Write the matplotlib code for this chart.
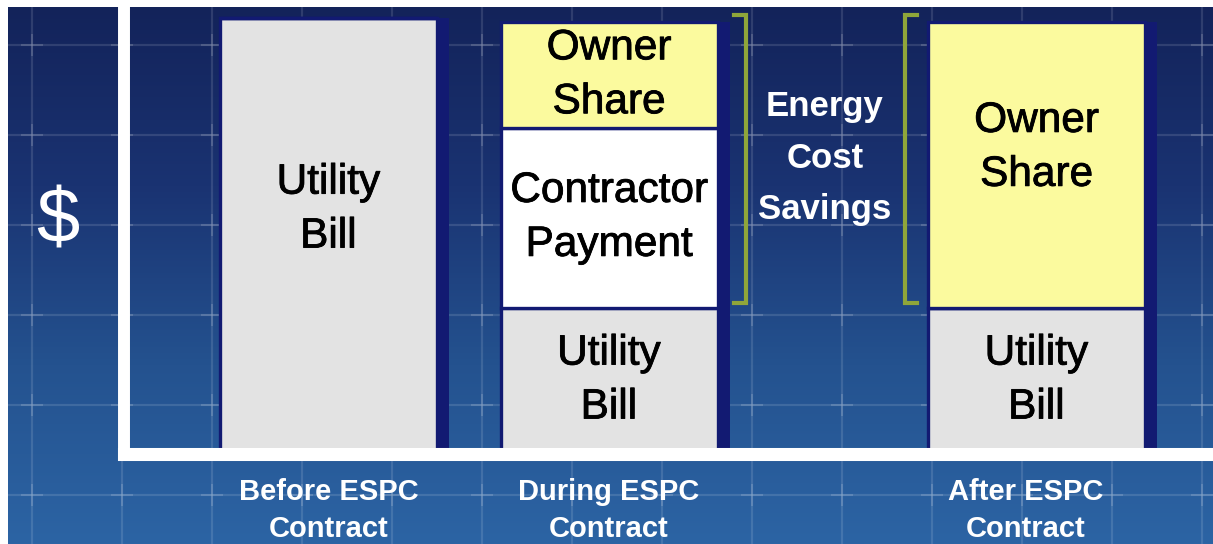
import numpy as np
import matplotlib
matplotlib.use("Agg")
import matplotlib.pyplot as plt
import matplotlib.patheffects as pe
from matplotlib.colors import LinearSegmentedColormap
from matplotlib.transforms import ScaledTranslation

plt.rcParams['font.family'] = ['Liberation Sans', 'DejaVu Sans']

# datos del grafico
categorias = ['Before ESPC\nContract', 'During ESPC\nContract', 'After ESPC\nContract']
utility = [100, 33.5, 33.5]
contractor = [0, 41.2, 0]
owner = [0, 24.3, 65.5]
seg_labels = ['Utility\nBill', 'Contractor\nPayment', 'Owner\nShare']
savings_label = 'Energy\nCost\nSavings'

# colores
c_util = '#e3e3e3'
c_contr = '#ffffff'
c_owner = '#fbfa9e'
c_shadow = '#121a72'
c_bracket = '#8fa63a'

W, H = 1213, 544
fig = plt.figure(figsize=(W / 100, H / 100), dpi=100, facecolor='white')

# fondo azul con cuadricula
bg = fig.add_axes([8 / W, 0, (W - 8) / W, (H - 7) / H], zorder=0)
cmap = LinearSegmentedColormap.from_list('fondo', ['#13235a', '#1a3372', '#24528f', '#2c64a4'])
grad = np.linspace(0, 1, 256).reshape(-1, 1)
bg.imshow(grad, cmap=cmap, aspect='auto', extent=[8, W, H, 7])
bg.set_xlim(8, W)
bg.set_ylim(H, 7)
for gx in range(32, W, 90):
    bg.axvline(gx, color='white', alpha=0.12, lw=1.6)
for gy in range(45, H, 90):
    bg.axhline(gy, color='white', alpha=0.12, lw=1.6)
gxs, gys = np.meshgrid(np.arange(32, W, 90), np.arange(45, H, 90))
bg.scatter(gxs.ravel(), gys.ravel(), marker='+', s=260, color='white', alpha=0.18, lw=1.2)
bg.axis('off')

# ejes principales (pixeles -> fraccion de figura)
left_px, bottom_px, top_px = 124, 453.5, 7
ax = fig.add_axes([left_px / W, (H - bottom_px) / H, (W - left_px) / W, (bottom_px - top_px) / H], zorder=1)
ax.patch.set_alpha(0)

px_x = 280.5
px_y = 4.355
x_pos = [0, 1, (1036.5 - 328.5) / px_x]
ancho = 217 / px_x
ax.set_xlim(-(328.5 - left_px) / px_x, (W - 328.5) / px_x)
ax.set_ylim(0, (bottom_px - top_px) / px_y)

# sombra a la derecha de cada barra
totales = [u + c + o for u, c, o in zip(utility, contractor, owner)]
ax.bar([x + 12 / px_x for x in x_pos], totales, width=ancho, color=c_shadow, zorder=1)

trazo = [pe.withStroke(linewidth=0.6, foreground='black')]
base = [0, 0, 0]
for vals, col, lab in zip([utility, contractor, owner], [c_util, c_contr, c_owner], seg_labels):
    ax.bar(x_pos, vals, width=ancho, bottom=base, color=col, edgecolor=c_shadow, lw=2.4, zorder=2)
    for i, v in enumerate(vals):
        if v > 0:
            frac = 0.56 if v > 60 else 0.5
            ax.text(x_pos[i], base[i] + v * frac, lab, ha='center', va='center',
                    fontsize=30.5, color='black', linespacing=1.45, zorder=3, path_effects=trazo)
    base = [b + v for b, v in zip(base, vals)]

# corchetes de ahorro
y0 = utility[1] + 1.0
y1 = totales[1] + 1.6
xr = (746 - 328.5) / px_x
xl = (905 - 328.5) / px_x
tick = 12 / px_x
ax.plot([xr - tick, xr, xr, xr - tick], [y1, y1, y0, y0], color=c_bracket, lw=3, zorder=3,
        solid_joinstyle='miter')
ax.plot([xl + tick, xl, xl, xl + tick], [y1, y1, y0, y0], color=c_bracket, lw=3, zorder=3,
        solid_joinstyle='miter')
ax.text((825 - 328.5) / px_x, (bottom_px - 158) / px_y, savings_label, ha='center', va='center',
        fontsize=25, fontweight='bold', color='white', linespacing=1.72, zorder=3)

# ejes en L blancos
for s in ['top', 'right']:
    ax.spines[s].set_visible(False)
ax.spines['left'].set_linewidth(8.6)
ax.spines['bottom'].set_linewidth(9.4)
for s in ['left', 'bottom']:
    ax.spines[s].set_color('white')
    ax.spines[s].set_capstyle('projecting')
    ax.spines[s].set_zorder(4)

ax.set_yticks([])
ax.set_xticks(x_pos)
ax.set_xticklabels(categorias, fontsize=21, fontweight='bold', color='white', linespacing=1.4)
ax.tick_params(axis='x', length=0, pad=18)
etq = ax.get_xticklabels()[2]
etq.set_transform(etq.get_transform() + ScaledTranslation(-0.11, 0, fig.dpi_scale_trans))

fig.text(58 / W, 1 - 222 / H, '$', fontsize=56, color='white', ha='center', va='center')

fig.savefig('out.png', dpi=100, facecolor='white')
